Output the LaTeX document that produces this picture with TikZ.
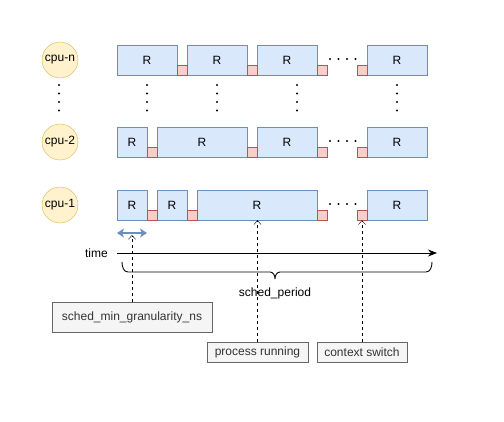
\documentclass[tikz,border=0pt]{standalone}
\usepackage{fontspec}
\setmainfont{Liberation Sans}
\usetikzlibrary{arrows.meta}
\definecolor{runfill}{HTML}{DAE8FC}
\definecolor{runline}{HTML}{6C8EBF}
\definecolor{swfill}{HTML}{F8CECC}
\definecolor{swline}{HTML}{B85450}
\definecolor{cpufill}{HTML}{FFF2CC}
\definecolor{cpuline}{HTML}{D6B656}
\definecolor{notefill}{HTML}{F5F5F5}
\definecolor{noteline}{HTML}{666666}
\definecolor{notetext}{HTML}{333333}
\tikzset{
  cpu/.style={circle,draw=cpuline,fill=cpufill,minimum size=36pt,inner sep=0pt},
  run/.style={draw=runline,fill=runfill,minimum height=30pt,inner sep=0pt},
  sw/.style={draw=swline,fill=swfill,minimum size=10pt,inner sep=0pt},
  note/.style={draw=noteline,fill=notefill,text=notetext,inner sep=0pt},
  ptr/.style={dash pattern=on 3pt off 3pt,-{Straight Barb[length=4pt,width=7pt]}}
}

\begin{document}
\begin{tikzpicture}[x=1pt,y=-1pt,font=\fontsize{12}{14}\selectfont]
			\useasboundingbox (0,0) rectangle (504,422);
			\node[cpu] (cpun) at (60,60) {cpu-n};
			\node[cpu] (cpu2) at (60,142) {cpu-2};
			\node[cpu] (cpu1) at (60,205) {cpu-1};

			% cpu-n
			\foreach \xa/\xb [count=\i, evaluate=\xa as \xm using (\xa+\xb)/2, evaluate=\xb as \w using \xb-\xa] in {117/177,187/247,257/317,367/427}
			\node[run,minimum width=\w pt] (rn-\i) at (\xm,60) {R};
			\foreach \xa [count=\i] in {177,247,317,357}
			\node[sw] (sn-\i) at (\xa+5,70) {};
			% cpu-2
			\foreach \xa/\xb [count=\i, evaluate=\xa as \xm using (\xa+\xb)/2, evaluate=\xb as \w using \xb-\xa] in {117/147,157/247,257/317,367/427}
			\node[run,minimum width=\w pt] (r2-\i) at (\xm,142) {R};
			\foreach \xa [count=\i] in {147,247,317,357}
			\node[sw] (s2-\i) at (\xa+5,152) {};
			% cpu-1
			\foreach \xa/\xb [count=\i, evaluate=\xa as \xm using (\xa+\xb)/2, evaluate=\xb as \w using \xb-\xa] in {117/147,157/187,197/317,367/427}
			\node[run,minimum width=\w pt] (r1-\i) at (\xm,205) {R};
			\foreach \xa [count=\i] in {147,187,317,357}
			\node[sw] (s1-\i) at (\xa+5,215) {};

			\foreach \y in {59,141,204}
			\foreach \x in {330,338.5,347,355.5}
			\fill (\x,\y) circle (1.2pt);
			\foreach \x in {59,147,217,297,397}
			\foreach \y in {85,93.5,102,110.5}
			\fill (\x,\y) circle (1.2pt);

			\coordinate (g0) at (117,233);
			\coordinate (g1) at (147,233);
			\draw[runline,line width=1.8pt,{Stealth[length=7pt,width=9pt,inset=2pt]}-{Stealth[length=7pt,width=9pt,inset=2pt]}] (g0) -- (g1);

			\node[anchor=east,inner sep=0pt] (time) at (108,253) {time};
			\coordinate (t0) at (117,253);
			\coordinate (t1) at (437,253);
			\draw[line width=0.9pt,-{Stealth[length=9pt,width=7pt]}] (t0) -- (t1);

			\coordinate (b0) at (122,262);
			\coordinate (b1) at (432,262);
			\draw[line width=0.9pt] (b0) to[out=-90,in=180] (128,272) -- (270,272) to[out=0,in=90] (275,279)
			  (275,279) to[out=90,in=180] (280,272) -- (426,272) to[out=0,in=-90] (b1);
			\node (period) at (275,293) {sched\_period};

			\node[note,minimum width=160pt,minimum height=30pt] (gran) at (132,317) {sched\_min\_granularity\_ns};
			\node[note,minimum width=101pt,minimum height=20pt] (runnote) at (257.5,352) {process running};
			\node[note,minimum width=90pt,minimum height=20pt] (swnote) at (362,352) {context switch};
			\coordinate (gtip) at (132,235);
			\draw[ptr] (gran.north) -- (gtip);
			\draw[ptr] (runnote.north) -- (runnote.north |- r1-3.south);
			\draw[ptr] (swnote.north) -- (s1-4.south);
\end{tikzpicture}
\end{document}
